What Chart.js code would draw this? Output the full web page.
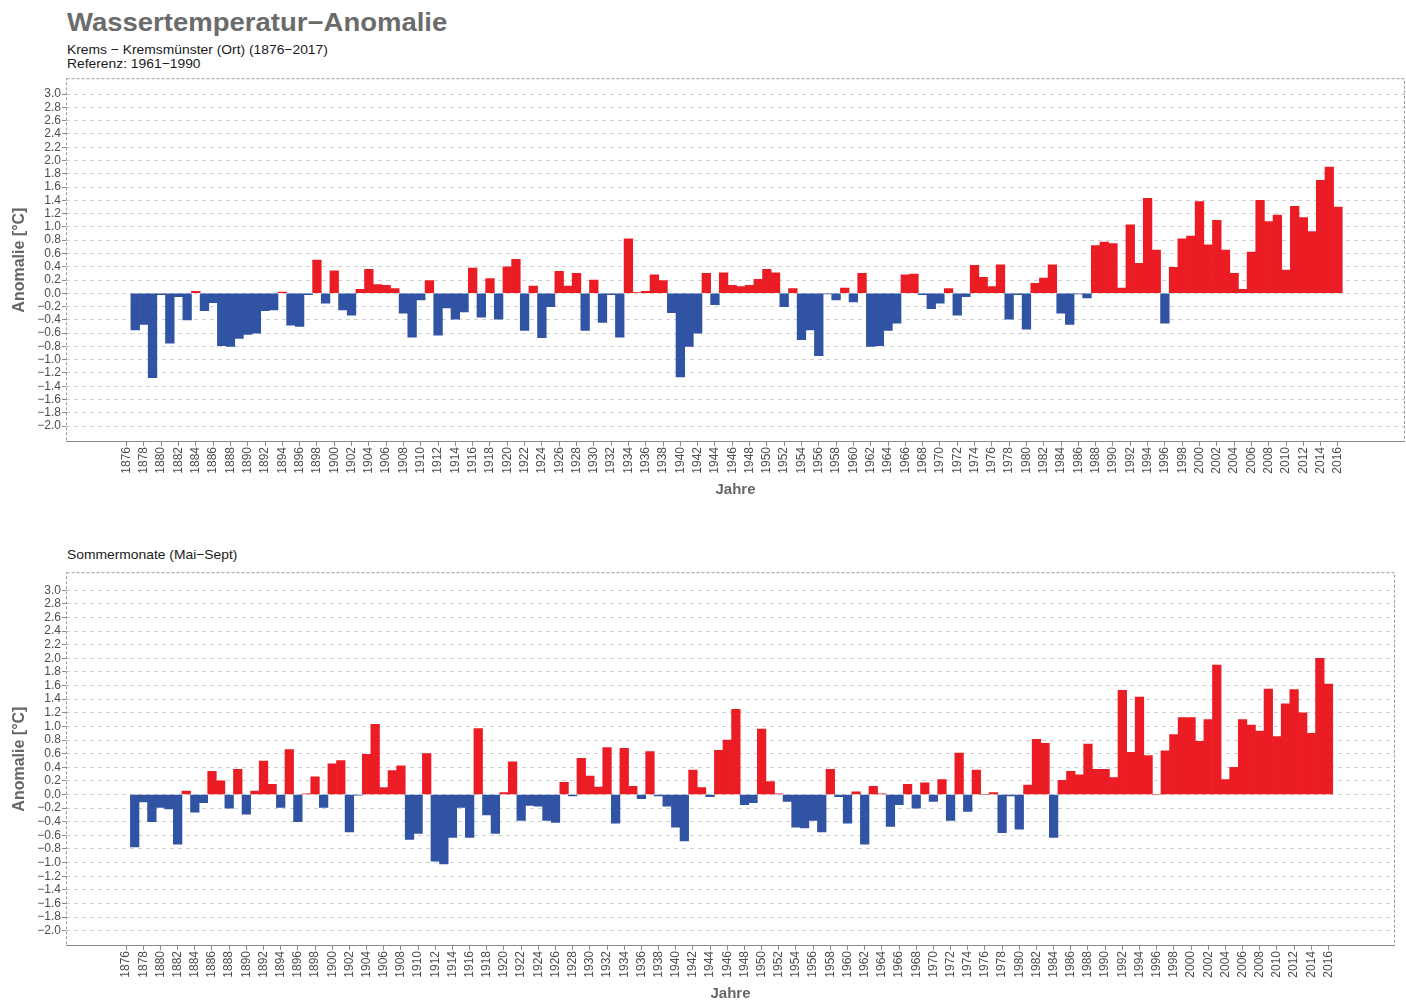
<!DOCTYPE html>
<html>
<head>
<meta charset="utf-8">
<script src="https://cdn.jsdelivr.net/npm/chart.js@4.4.0/dist/chart.umd.min.js"></script>
<style>
  html, body { margin: 0; padding: 0; background: #fff; overflow: hidden; width: 1406px; height: 1001px; }
  body { position: relative; font-family: "Liberation Sans", Arial, sans-serif; }
  .txt { position: absolute; left: 67px; white-space: nowrap; transform-origin: 0 0; }
  #title { top: 10px; font-size: 25px; line-height: 25px; font-weight: bold; color: #6b6b6b; transform: scaleX(1.1); }
  .sub { font-size: 13px; line-height: 14px; color: #1a1a1a; transform: scaleX(1.065); }
  canvas { position: absolute; left: 0; }
</style>
</head>
<body>
<div id="title" class="txt">Wassertemperatur−Anomalie</div>
<div class="txt sub" style="top:43px">Krems − Kremsmünster (Ort) (1876−2017)</div>
<div class="txt sub" style="top:57px">Referenz: 1961−1990</div>
<canvas id="jahr" width="1406" height="430" style="top:70px"></canvas>
<div class="txt sub" style="top:548px">Sommermonate (Mai−Sept)</div>
<canvas id="sommer" width="1406" height="440" style="top:564px"></canvas>
<script>
// years 1877-2016, one bar per year
const firstYear = 1877;

// annual water temperature anomaly [°C]
const annual = [
  -0.55, -0.47, -1.27, -0.02, -0.75, -0.05, -0.40, 0.03, -0.26, -0.14,
  -0.79, -0.80, -0.68, -0.62, -0.60, -0.26, -0.25, 0.02, -0.48, -0.50,
  -0.02, 0.50, -0.15, 0.34, -0.25, -0.33, 0.06, 0.36, 0.13, 0.12,
  0.07, -0.30, -0.66, -0.10, 0.19, -0.63, -0.22, -0.39, -0.28, 0.38,
  -0.36, 0.22, -0.39, 0.40, 0.51, -0.56, 0.11, -0.67, -0.20, 0.33,
  0.11, 0.30, -0.56, 0.20, -0.44, -0.02, -0.66, 0.82, 0.01, 0.03,
  0.28, 0.19, -0.29, -1.26, -0.80, -0.60, 0.30, -0.17, 0.31, 0.12,
  0.10, 0.12, 0.21, 0.36, 0.31, -0.20, 0.07, -0.70, -0.55, -0.94,
  -0.01, -0.10, 0.08, -0.13, 0.30, -0.80, -0.79, -0.56, -0.45, 0.28,
  0.29, -0.02, -0.23, -0.15, 0.07, -0.33, -0.05, 0.42, 0.24, 0.10,
  0.43, -0.39, -0.02, -0.54, 0.15, 0.23, 0.43, -0.30, -0.47, -0.01,
  -0.07, 0.72, 0.77, 0.75, 0.08, 1.03, 0.45, 1.43, 0.65, -0.45,
  0.39, 0.82, 0.86, 1.38, 0.73, 1.10, 0.65, 0.30, 0.06, 0.62,
  1.40, 1.08, 1.18, 0.35, 1.31, 1.14, 0.93, 1.70, 1.90, 1.30
];

// summer months (May-Sept) anomaly [°C]
const summer = [
  -0.77, -0.11, -0.40, -0.19, -0.21, -0.73, 0.05, -0.26, -0.12, 0.34,
  0.20, -0.20, 0.37, -0.29, 0.05, 0.49, 0.15, -0.19, 0.66, -0.40,
  0.01, 0.26, -0.19, 0.45, 0.50, -0.55, -0.01, 0.59, 1.03, 0.10,
  0.35, 0.42, -0.66, -0.57, 0.60, -0.98, -1.02, -0.63, -0.19, -0.63,
  0.97, -0.30, -0.57, 0.03, 0.48, -0.38, -0.16, -0.17, -0.38, -0.41,
  0.18, -0.02, 0.53, 0.27, 0.11, 0.69, -0.42, 0.68, 0.12, -0.06,
  0.63, -0.02, -0.17, -0.48, -0.68, 0.36, 0.10, -0.03, 0.65, 0.80,
  1.25, -0.15, -0.12, 0.96, 0.19, 0.01, -0.10, -0.48, -0.49, -0.38,
  -0.55, 0.37, -0.03, -0.42, 0.04, -0.73, 0.12, 0.01, -0.47, -0.15,
  0.15, -0.20, 0.17, -0.10, 0.22, -0.38, 0.61, -0.25, 0.36, 0.00,
  0.03, -0.56, -0.02, -0.51, 0.14, 0.81, 0.75, -0.63, 0.21, 0.34,
  0.29, 0.74, 0.37, 0.37, 0.25, 1.53, 0.62, 1.43, 0.57, 0.00,
  0.64, 0.88, 1.13, 1.13, 0.78, 1.10, 1.90, 0.22, 0.40, 1.10,
  1.02, 0.93, 1.55, 0.85, 1.33, 1.54, 1.20, 0.90, 2.00, 1.62
];

const years = annual.map((v, i) => firstYear + i);

// axis ticks
const yTicks = [3.0, 2.8, 2.6, 2.4, 2.2, 2.0, 1.8, 1.6, 1.4, 1.2, 1.0, 0.8, 0.6, 0.4, 0.2, 0.0,
  -0.2, -0.4, -0.6, -0.8, -1.0, -1.2, -1.4, -1.6, -1.8, -2.0];
const tickYears = [];
for (let y = 1876; y <= 2016; y += 2) tickYears.push(y);

const RED = '#ec1c24';
const BLUE = '#3153a4';
const MINUS = '\u2212';

Chart.defaults.font.family = "'Liberation Sans', Arial, sans-serif";

const fmt = v => (v < -0.001 ? MINUS : '') + Math.abs(v).toFixed(1);

// frame around the plot area
const plotBox = {
  id: 'plotBox',
  afterDraw(chart) {
    const { ctx, chartArea: a } = chart;
    ctx.save();
    ctx.strokeStyle = '#9a9a9a';
    ctx.lineWidth = 1;
    ctx.setLineDash([3, 2]);
    ctx.strokeRect(a.left + 0.5, a.top + 0.5, a.right - a.left - 1, a.bottom - a.top - 1);
    ctx.setLineDash([]);
    ctx.strokeStyle = '#8a8a8a';
    ctx.beginPath();
    ctx.moveTo(a.left, a.bottom - 0.5);
    ctx.lineTo(a.right, a.bottom - 0.5);
    ctx.stroke();
    ctx.restore();
  }
};

function makePanel(id, values, yMin, yMax, rightPad) {
  return new Chart(document.getElementById(id), {
    type: 'bar',
    data: {
      datasets: [{
        data: years.map((y, i) => ({ x: y, y: values[i] })),
        backgroundColor: c => (c.raw && c.raw.y < 0 ? BLUE : RED),
        borderWidth: 0,
        barPercentage: 1,
        categoryPercentage: 1
      }]
    },
    options: {
      responsive: false,
      animation: false,
      layout: { padding: { top: 7, right: rightPad, left: 0, bottom: 0 } },
      plugins: { legend: { display: false }, tooltip: { enabled: false } },
      scales: {
        x: {
          type: 'linear',
          min: 1869.0,
          max: 2023.75,
          offset: false,
          afterBuildTicks: s => { s.ticks = tickYears.map(v => ({ value: v })); },
          afterFit: s => { s.height = 58; },
          grid: { offset: false, drawOnChartArea: false, drawTicks: true, tickLength: 4, tickColor: '#8a8a8a' },
          border: { display: false },
          ticks: {
            autoSkip: false, minRotation: 90, maxRotation: 90, padding: 1,
            color: '#4d4d4d', font: { size: 12 },
            callback: v => String(v)
          },
          title: {
            display: true, text: 'Jahre', color: '#666666',
            font: { size: 15, weight: 'bold' }, padding: { top: 0, bottom: 1 }
          }
        },
        y: {
          min: yMin,
          max: yMax,
          afterBuildTicks: s => { s.ticks = yTicks.map(v => ({ value: v })); },
          afterFit: s => { s.width = 66; },
          grid: { color: '#cdcdcd', lineWidth: 1, tickColor: '#8a8a8a', tickLength: 4, tickBorderDash: [] },
          border: { display: false, dash: [4, 4] },
          ticks: { autoSkip: false, padding: 1, color: '#4d4d4d', font: { size: 12 }, callback: v => fmt(v) },
          title: {
            display: true, text: 'Anomalie [°C]', color: '#666666',
            font: { size: 16, weight: 'bold' }, padding: { top: 10, bottom: 0 }
          }
        }
      }
    },
    plugins: [plotBox]
  });
}

makePanel('jahr', annual, -2.24, 3.24, 1);
makePanel('sommer', summer, -2.225, 3.265, 11);
</script>
</body>
</html>
